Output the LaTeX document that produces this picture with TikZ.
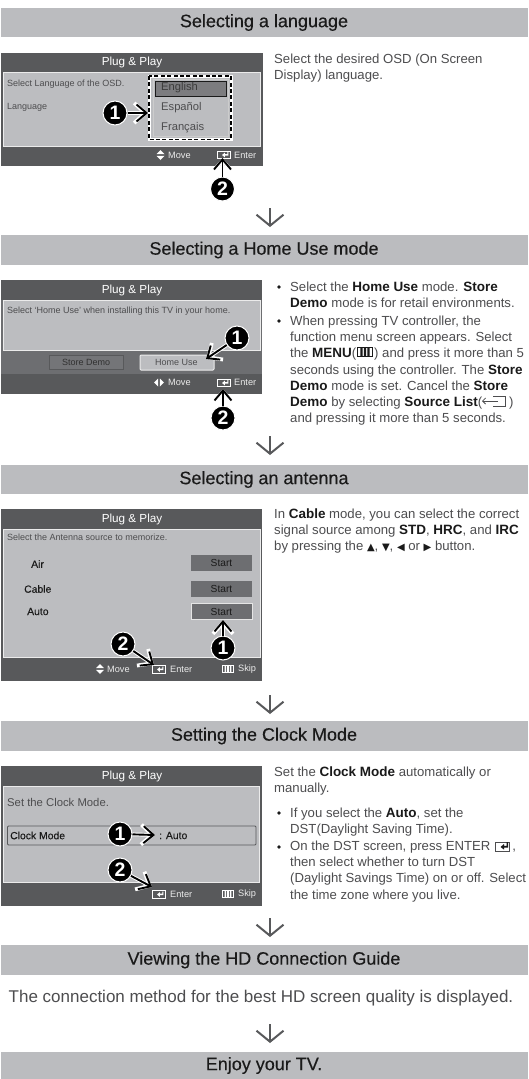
\documentclass[tikz,border=0pt]{standalone}
\usepackage{fontspec}
\setmainfont[BoldFeatures={Scale=1.025}]{Liberation Sans}
\newfontfamily\headfont[FakeBold=0.3]{Liberation Sans}
\newfontfamily\midfont[FakeBold=0.15]{Liberation Sans}
\newfontfamily\symfont{DejaVu Sans}
\usetikzlibrary{arrows.meta,calc}
\definecolor{band}{HTML}{BBBCBF}
\definecolor{scrdark}{HTML}{58595B}
\definecolor{scrmid}{HTML}{6D6E71}
\definecolor{panel}{HTML}{BCBDC0}
\definecolor{txt}{HTML}{4D4D4F}
\definecolor{bld}{HTML}{1A1A1A}
\newcommand{\bd}[1]{{\bfseries\color{bld}#1}}
\newcommand{\tri}[1]{{\symfont\color{bld}\fontsize{10}{10}\selectfont #1}}
\tikzset{
 x=1pt,y=-1pt,
 bandbox/.style={fill=band,draw=none},
 headtext/.style={font=\headfont\fontsize{18}{20}\selectfont,text=bld,anchor=center,inner sep=0},
 bodytext/.style={font=\fontsize{13.15}{16.1}\selectfont,text=txt,anchor=north west,align=left,inner sep=0},
 bulletdot/.style={circle,fill=bld,draw=none,minimum size=3.6pt,inner sep=0},
 scrtitle/.style={font=\fontsize{11.7}{14}\selectfont,text=white,inner sep=0},
 scrsmall/.style={font=\fontsize{9}{10}\selectfont,text=txt,anchor=west,inner sep=0},
 scrdarktext/.style={font=\midfont\fontsize{10.4}{11}\selectfont,text=bld,anchor=west,inner sep=0},
 foot/.style={font=\fontsize{9.2}{10}\selectfont,text=white!92!black,anchor=west,inner sep=0},
 panelbox/.style={fill=panel,draw=white!92!black,line width=0.9pt},
 badge/.style={circle,fill=black,draw=white,line width=1pt,minimum size=24pt,inner sep=0,text=white,font=\bfseries\fontsize{19}{20}\selectfont},
 callout/.style={preaction={draw=white,line width=3.8pt,-{Straight Barb[length=11pt,width=20pt]}},draw=black,line width=1.9pt,-{Straight Barb[length=10pt,width=17pt]}},
 flow/.style={draw=scrdark,line width=2pt,-{Straight Barb[length=11pt,width=27pt]}},
 startbtn/.style={fill=scrmid,text=bld,font=\fontsize{10.2}{11}\selectfont,inner sep=0,minimum width=61pt,minimum height=16pt},
 enter/.pic={\draw[white,line width=0.5pt] (-6.5,-3.5)--(-6.5,4)--(6.5,4)--(6.5,-3.5)--cycle;
   \fill[white] (-2,0.5) -- (0.8,-1.8) -- (0.8,-0.4) -- (3.4,-0.4) -- (3.4,-2.4) -- (4.4,-2.4) -- (4.4,1) -- (0.8,1) -- (0.8,2.8) -- cycle;},
 enterdark/.pic={\draw[txt,line width=0.6pt] (-8,-3.5)--(-8,5)--(6,5)--(6,-3.5)--cycle;
   \fill[bld] (-2.5,1) -- (1,-2) -- (1,-0.1) -- (3.6,-0.1) -- (3.6,-4) -- (5,-4) -- (5,1.6) -- (1,1.6) -- (1,3.6) -- cycle;},
 menuicon/.pic={\draw[#1,line width=0.7pt] (-5.5,-3.2) rectangle (5.5,3.2);
   \fill[#1] (-3.4,-3.2) rectangle (-1.8,3.2) (-0.8,-3.2) rectangle (0.8,3.2) (1.8,-3.2) rectangle (3.4,3.2);},
 updown/.pic={\fill[white] (-4,-0.8)--(0,-5)--(4,-0.8)--cycle (-4,0.8)--(0,5)--(4,0.8)--cycle;},
 leftright/.pic={\fill[white] (-0.8,-4)--(-5,0)--(-0.8,4)--cycle (0.8,-4)--(5,0)--(0.8,4)--cycle;},
 sourceicon/.pic={\draw[txt,line width=0.7pt] (-1,-5) -- (11,-5) -- (11,5) -- (-1,5);
   \draw[txt,line width=0.8pt,-{Straight Barb[length=3pt,width=6pt]}] (4,0) -- (-12,0);},
}
\begin{document}
\begin{tikzpicture}
\useasboundingbox (0,0) rectangle (528,1079);
\fill[white] (0,0) rectangle (528,1079);
% ---- bands
\fill[bandbox] (1,8) rectangle (528,37);
\node[headtext] (h1) at (264,22.5) {Selecting a language};
\fill[bandbox] (1,235) rectangle (528,265);
\node[headtext] (h2) at (264,250) {Selecting a Home Use mode};
\fill[bandbox] (1,465) rectangle (528,494);
\node[headtext] (h3) at (264,479.5) {Selecting an antenna};
\fill[bandbox] (1,721) rectangle (528,751);
\node[headtext] (h4) at (264,736) {Setting the Clock Mode};
\fill[bandbox] (1,945) rectangle (528,975);
\node[headtext] (h5) at (264,960) {Viewing the HD Connection Guide};
\fill[bandbox] (1,1052) rectangle (528,1079);
\node[headtext] (h6) at (264,1065.5) {Enjoy your TV.};
% ---- flow arrows
\foreach \n/\ya/\yb in {a/208/227,b/436/455,c/695/714,d/918/937,e/1024/1043}{
  \coordinate (fs\n) at (270,\ya);
  \coordinate (fe\n) at (270,\yb);
  \draw[flow] (fs\n) -- (fe\n);
}
% ---- screen 1
\fill[scrdark] (1,53) rectangle (263,166);
\draw[panelbox] (3,72) rectangle (260,146);
\node[scrtitle] (t1) at (132,62.5) {Plug \& Play};
\node[scrsmall] (s1a) at (7,84) {Select Language of the OSD.};
\node[scrsmall] (s1b) at (7,107) {Language};
\fill[scrmid!90!white,draw=bld,line width=0.8pt] (155.5,81.5) rectangle (226,96.5);
\draw[white!80!black,line width=0.7pt] (153,79) rectangle (228.5,136);
\node[scrsmall,font=\fontsize{11.2}{12}\selectfont,text=bld!85!white] (o1) at (161,88) {English};
\node[scrsmall,font=\fontsize{11.2}{12}\selectfont] (o2) at (161,108) {Español};
\node[scrsmall,font=\fontsize{11.2}{12}\selectfont] (o3) at (161,128) {Français};
\draw[white,line width=3pt] (149,76) rectangle (231,139.5);
\draw[black,line width=1.3pt,dash pattern=on 4pt off 2.4pt] (149,76) rectangle (231,139.5);
\pic at (160.5,155) {updown};
\node[foot] (f1a) at (168,155) {Move};
\pic at (224,154.5) {enter};
\node[foot] (f1b) at (234,155) {Enter};
\node[badge] (b11) at (115,113) {1};
\coordinate (a11) at (148,113);
\draw[callout] (b11) -- (a11);
\node[badge] (b12) at (222.5,189) {2};
\coordinate (a12) at (222.5,158);
\draw[callout] (b12) -- (a12);
\node[bodytext] (p1) at (274,54) {Select the desired OSD (On Screen\\Display) language.};
% ---- screen 2
\fill[scrdark] (1,280) rectangle (262,394);
\fill[scrmid] (1,300) rectangle (262,374);
\fill[scrdark] (1,280) rectangle (262,300);
\draw[panelbox] (3,300) rectangle (260,350);
\node[scrtitle] (t2) at (132,290) {Plug \& Play};
\node[scrsmall] (s2a) at (7,311.5) {Select ‘Home Use’ when installing this TV in your home.};
\fill[scrmid!95!white,draw=scrdark,line width=0.6pt] (49,355) rectangle (123,369);
\node[scrsmall,text=bld!90!white] (s2b) at (62,362) {Store Demo};
\draw[fill=panel,draw=white!92!black,line width=1pt,rounded corners=1pt] (140,355) rectangle (214,370);
\node[scrsmall] (s2c) at (155,362.5) {Home Use};
\pic at (159,382.5) {leftright};
\node[foot] (f2a) at (168,382.5) {Move};
\pic at (224,382.5) {enter};
\node[foot] (f2b) at (234,382.5) {Enter};
\node[badge] (b21) at (237,338) {1};
\coordinate (a21) at (206,359);
\draw[callout] (b21) -- (a21);
\node[badge] (b22) at (223,418) {2};
\coordinate (a22) at (223,389);
\draw[callout] (b22) -- (a22);
\node[bulletdot] (q2a) at (279,287) {};
\node[bodytext] (p2a) at (290,281.5) {Select the \bd{Home Use} mode. \bd{Store}\\\bd{Demo} mode is for retail environments.};
\node[bulletdot] (q2b) at (279,321) {};
\node[bodytext] (p2b) at (290,316) {When pressing TV controller, the\\function menu screen appears. Select\\the \bd{MENU}(\hspace{18pt}) and press it more than 5\\seconds using the controller. The \bd{Store}\\\bd{Demo} mode is set. Cancel the \bd{Store}\\\bd{Demo} by selecting \bd{Source List}(\hspace{27pt})\\and pressing it more than 5 seconds.};
\pic[scale=1.35] at (365,352) {menuicon=bld};
\pic at (494,401) {sourceicon};
% ---- screen 3
\fill[scrdark] (1,509) rectangle (262,681);
\draw[panelbox] (3,529) rectangle (260,657);
\node[scrtitle] (t3) at (132,519.5) {Plug \& Play};
\node[scrsmall] (s3a) at (7,537.5) {Select the Antenna source to memorize.};
\node[scrdarktext] (s3b) at (31,564) {Air};
\node[scrdarktext] (s3c) at (24,589) {Cable};
\node[scrdarktext] (s3d) at (27,611.5) {Auto};
\node[startbtn] (st1) at (221.5,563) {Start};
\node[startbtn] (st2) at (221.5,588.5) {Start};
\node[startbtn,draw=white!90!black,line width=1pt] (st3) at (221.5,611.5) {Start};
\pic at (100,669) {updown};
\node[foot] (f3a) at (107,669) {Move};
\pic at (159,669) {enter};
\node[foot] (f3b) at (170,669) {Enter};
\pic at (228,669) {menuicon=white};
\node[foot] (f3c) at (238,669) {Skip};
\node[badge] (b31) at (223,648) {1};
\coordinate (a31) at (223,620);
\draw[callout] (b31) -- (a31);
\node[badge] (b32) at (123,644) {2};
\coordinate (a32) at (154,665);
\draw[callout] (b32) -- (a32);
\node[bodytext] (p3) at (274,508.5) {In \bd{Cable} mode, you can select the correct\\signal source among \bd{STD}, \bd{HRC}, and \bd{IRC}\\by pressing the \tri{▲}, \tri{▼}, \tri{◀} or \tri{▶} button.};
% ---- screen 4
\fill[scrdark] (1,766) rectangle (262,906);
\draw[panelbox] (3,786) rectangle (259,882);
\node[scrtitle] (t4) at (132,776) {Plug \& Play};
\node[scrsmall,font=\fontsize{11.3}{12}\selectfont] (s4a) at (7,802.5) {Set the Clock Mode.};
\draw[scrdark,line width=0.8pt,rounded corners=1pt] (7.5,826) rectangle (256,845);
\node[scrdarktext] (s4b) at (10,835.5) {Clock Mode};
\node[scrdarktext] (s4c) at (159,835.5) {: Auto};
\pic at (159,894) {enter};
\node[foot] (f4a) at (170,894) {Enter};
\pic at (228,894) {menuicon=white};
\node[foot] (f4b) at (238,894) {Skip};
\node[badge] (b41) at (120,834) {1};
\coordinate (a41) at (155,835);
\draw[callout] (b41) -- (a41);
\node[badge] (b42) at (120,870) {2};
\coordinate (a42) at (152,887);
\draw[callout] (b42) -- (a42);
\node[bodytext] (p4) at (274,766.5) {Set the \bd{Clock Mode} automatically or\\manually.};
\node[bulletdot] (q4a) at (279,813) {};
\node[bodytext] (p4a) at (290,807.5) {If you select the \bd{Auto}, set the\\DST(Daylight Saving Time).};
\node[bulletdot] (q4b) at (279,847) {};
\node[bodytext] (p4b) at (290,841) {On the DST screen, press ENTER\hspace{22pt},\\then select whether to turn DST\\(Daylight Savings Time) on or off. Select\\the time zone where you live.};
\pic at (503,846) {enterdark};
% ---- bottom text
\node[bodytext,anchor=center,font=\fontsize{17}{19}\selectfont] (p5) at (261,998) {The connection method for the best HD screen quality is displayed.};
\end{tikzpicture}
\end{document}
